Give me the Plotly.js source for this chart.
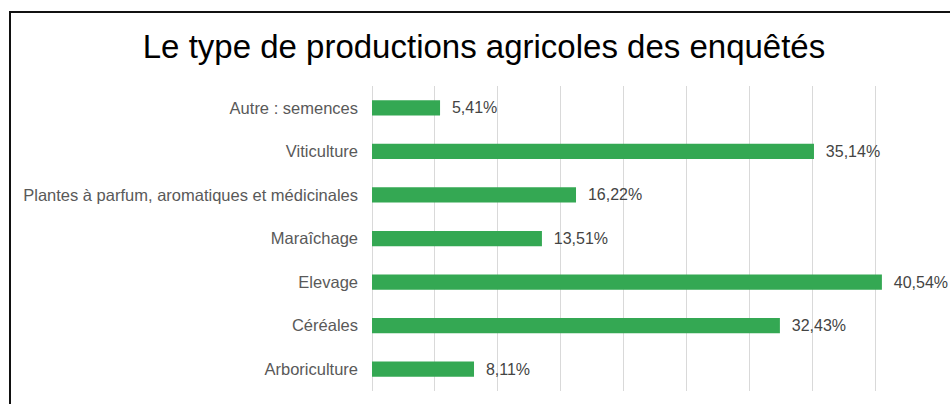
<!DOCTYPE html>
<html>
<head>
<meta charset="utf-8">
<script src="https://cdn.plot.ly/plotly-3.0.1.min.js"></script>
<style>
  html, body { margin: 0; padding: 0; background: #fff; }
  #wrap { position: relative; width: 950px; height: 404px; overflow: hidden; }
  #chart { position: absolute; left: 0; top: 0; width: 950px; height: 404px; }
  #frame { position: absolute; left: 9px; top: 11px; width: 960px; height: 420px;
           border-left: 2px solid #111; border-top: 2px solid #111; pointer-events: none; }
</style>
</head>
<body>
<div id="wrap">
  <div id="chart"></div>
  <div id="frame"></div>
</div>
<script>
const categories = [
  "Autre : semences",
  "Viticulture",
  "Plantes à parfum, aromatiques et médicinales",
  "Maraîchage",
  "Elevage",
  "Céréales",
  "Arboriculture"
];
const values = [5.41, 35.14, 16.22, 13.51, 40.54, 32.43, 8.11];
const labels = values.map(v => v.toFixed(2).replace(".", ",") + "%");

const trace = {
  type: "bar",
  orientation: "h",
  y: categories,
  x: values,
  text: labels.map(t => "\u00A0\u00A0" + t),
  textposition: "outside",
  constraintext: "none",
  cliponaxis: false,
  textfont: { family: "Liberation Sans, Arial, sans-serif", size: 16, color: "#444444" },
  marker: { color: "#34a853", line: { width: 0 } },
  width: 0.35,
  hoverinfo: "none"
};

const layout = {
  width: 950,
  height: 404,
  margin: { l: 371.5, r: 11.5, t: 86, b: 13, pad: 0 },
  paper_bgcolor: "#ffffff",
  plot_bgcolor: "#ffffff",
  showlegend: false,
  title: {
    text: "Le type de productions agricoles des enquêtés",
    font: { family: "Liberation Sans, Arial, sans-serif", size: 33, color: "#000000" },
    xref: "container", x: 484 / 950, xanchor: "center",
    yref: "container", y: 1 - 46 / 404, yanchor: "middle"
  },
  xaxis: {
    range: [0, 45],
    dtick: 5,
    showgrid: true,
    gridcolor: "#d9d9d9",
    gridwidth: 1,
    zeroline: true,
    zerolinecolor: "#d9d9d9",
    zerolinewidth: 1,
    showticklabels: false,
    ticks: "",
    showline: false,
    fixedrange: true
  },
  yaxis: {
    type: "category",
    autorange: "reversed",
    showgrid: false,
    zeroline: false,
    showline: false,
    ticks: "",
    ticklabelstandoff: 13,
    tickfont: { family: "Liberation Sans, Arial, sans-serif", size: 16.5, color: "#595959" },
    fixedrange: true
  }
};

Plotly.newPlot("chart", [trace], layout, { displayModeBar: false, staticPlot: true });
</script>
</body>
</html>
